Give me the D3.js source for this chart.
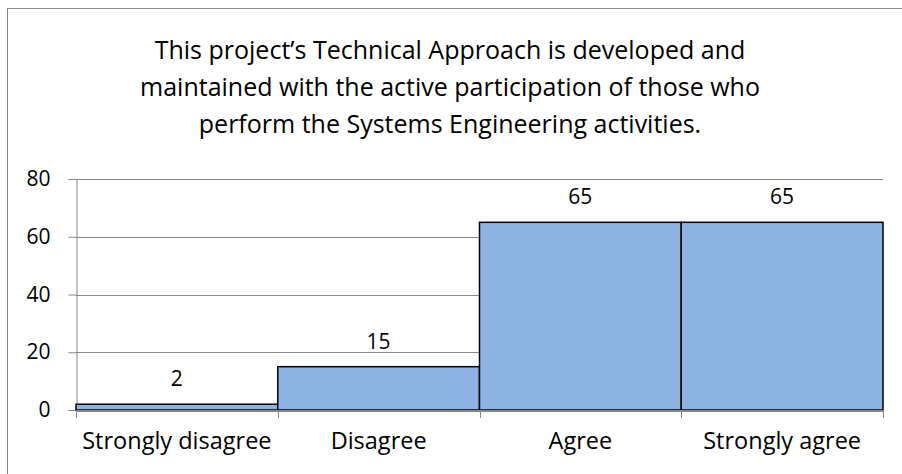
<!DOCTYPE html>
<html>
<head>
<meta charset="utf-8">
<script src="https://cdn.jsdelivr.net/npm/d3@7"></script>
<style>
  body { margin: 0; background: #fff; }
  svg { display: block; font-family: "Open Sans", sans-serif; }
</style>
</head>
<body>
<svg></svg>
<script>
var categories = ['Strongly disagree', 'Disagree', 'Agree', 'Strongly agree'];
var counts = [2, 15, 65, 65];
var yTicks = [0, 20, 40, 60, 80];
var titleLines = [
  'This project\u2019s Technical Approach is developed and',
  'maintained with the active participation of those who',
  'perform the Systems Engineering activities.'
];

var width = 902;
var height = 474;
var margin = {top: 179, right: 19, bottom: 64, left: 76};

var svg = d3.select('svg')
  .attr('width', width)
  .attr('height', height);

// chart border
svg.append('rect')
  .attr('x', 7.5)
  .attr('y', 8.5)
  .attr('width', width + 10)
  .attr('height', height + 10)
  .attr('fill', 'none')
  .attr('stroke', '#868686');

svg.append('g')
  .selectAll('text')
  .data(titleLines)
  .enter()
  .append('text')
  .attr('x', 450)
  .attr('y', (d, i) => 59 + i * 37)
  .attr('text-anchor', 'middle')
  .attr('font-size', 25)
  .attr('fill', '#000')
  .text(d => d);

var x = d3.scaleBand()
  .domain(categories)
  .range([margin.left, width - margin.right])
  .paddingInner(0)
  .paddingOuter(0);

var y = d3.scaleLinear()
  .domain([0, 80])
  .range([height - margin.bottom, margin.top]);

// gridlines
svg.append('g')
  .selectAll('line')
  .data(yTicks.filter(d => d > 0))
  .enter()
  .append('line')
  .attr('x1', margin.left)
  .attr('x2', width - margin.right)
  .attr('y1', d => Math.round(y(d)) + 0.5)
  .attr('y2', d => Math.round(y(d)) + 0.5)
  .attr('stroke', '#868686')
  .attr('stroke-width', 1);

var yAxis = svg.append('g')
  .attr('transform', 'translate(' + (margin.left + 0.5) + ',0)')
  .call(d3.axisLeft(y).tickValues(yTicks).tickSize(8).tickPadding(18));
yAxis.select('.domain').attr('stroke', '#868686');
yAxis.selectAll('.tick line').attr('stroke', '#868686');
yAxis.selectAll('.tick text')
  .attr('font-size', 21)
  .attr('font-family', '"Open Sans", sans-serif')
  .attr('fill', '#000');

svg.append('g')
  .selectAll('rect')
  .data(categories)
  .enter()
  .append('rect')
  .attr('x', d => x(d))
  .attr('y', (d, i) => y(counts[i]))
  .attr('width', x.bandwidth())
  .attr('height', (d, i) => y(0) - y(counts[i]))
  .attr('fill', '#8DB3E2')
  .attr('stroke', '#000')
  .attr('stroke-width', 1.5);

var xAxis = svg.append('g')
  .attr('transform', 'translate(0,' + (y(0) + 0.5) + ')')
  .call(d3.axisBottom(x).tickSize(0).tickPadding(22));
xAxis.select('.domain').attr('stroke', '#868686').attr('stroke-width', 2);
xAxis.selectAll('.tick text')
  .attr('font-size', 23.5)
  .attr('font-family', '"Open Sans", sans-serif')
  .attr('fill', '#000');

// category separators below the axis
svg.append('g')
  .selectAll('line')
  .data(categories.concat(['end']))
  .enter()
  .append('line')
  .attr('x1', (d, i) => Math.round(i < categories.length ? x(d) : x.range()[1]) + 0.5)
  .attr('x2', (d, i) => Math.round(i < categories.length ? x(d) : x.range()[1]) + 0.5)
  .attr('y1', y(0))
  .attr('y2', y(0) + 8)
  .attr('stroke', '#868686');

svg.append('g')
  .selectAll('text')
  .data(categories)
  .enter()
  .append('text')
  .attr('x', d => x(d) + x.bandwidth() / 2)
  .attr('y', (d, i) => y(counts[i]) - 18)
  .attr('text-anchor', 'middle')
  .attr('font-size', 21)
  .attr('fill', '#000')
  .text((d, i) => counts[i]);
</script>
</body>
</html>
